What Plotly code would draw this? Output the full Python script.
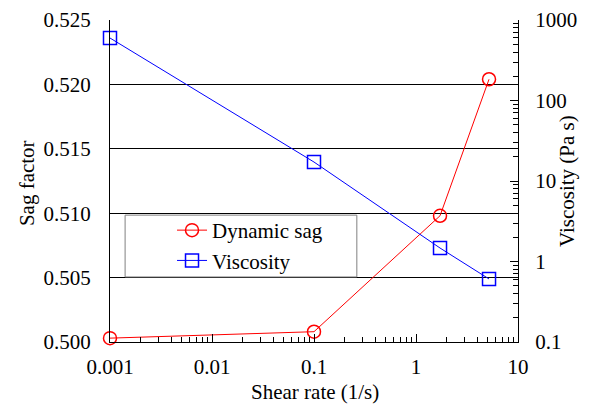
import plotly.graph_objects as go

shear_rate = [0.001, 0.1, 1.72, 5.2]
sag_factor = [0.5003, 0.5008, 0.5098, 0.5204]
viscosity = [597, 17.2, 1.47, 0.607]

x_major = [0.001, 0.01, 0.1, 1, 10]
x_labels = ["0.001", "0.01", "0.1", "1", "10"]
v_major = [0.1, 1, 10, 100, 1000]
v_labels = ["0.1", "1", "10", "100", "1000"]

def minor_log(lo_exp, hi_exp):
    vals = []
    for e in range(lo_exp, hi_exp):
        for m in range(2, 10):
            vals.append(m * 10 ** e)
    return vals

FONT = "Liberation Serif"
TF = dict(family=FONT, size=21, color="black")

fig = go.Figure()
fig.add_trace(go.Scatter(
    x=shear_rate, y=sag_factor, name="Dynamic sag", mode="lines+markers",
    line=dict(color="#ff0000", width=1),
    marker=dict(symbol="circle-open", size=13, color="#ff0000", line=dict(width=1.5)),
    yaxis="y", cliponaxis=False))
fig.add_trace(go.Scatter(
    x=shear_rate, y=viscosity, name="Viscosity", mode="lines+markers",
    line=dict(color="#0000ff", width=1),
    marker=dict(symbol="square-open", size=13, color="#0000ff", line=dict(width=1.5)),
    yaxis="y2", cliponaxis=False))

fig.update_layout(
    width=590, height=405,
    margin=dict(l=110, r=72, t=20, b=63),
    paper_bgcolor="white", plot_bgcolor="white",
    font=TF,
    showlegend=True,
    legend=dict(x=0.152, y=0.41, xanchor="left", yanchor="top",
                bgcolor="rgba(0,0,0,0)", borderwidth=0,
                font=TF, tracegroupgap=0),
    xaxis=dict(type="log", range=[-3, 1], tickmode="array", tickvals=x_major,
               ticktext=x_labels, automargin=False, ticklabelstandoff=6,
               ticks="inside", ticklen=8, tickcolor="black", tickwidth=1,
               minor=dict(tickmode="array", tickvals=minor_log(-3, 1),
                          ticks="inside", ticklen=5, tickcolor="black", showgrid=False),
               showline=True, linecolor="black", linewidth=1, mirror=False,
               showgrid=False, zeroline=False, tickfont=TF),
    yaxis=dict(range=[0.5, 0.525], dtick=0.005, tickformat=".3f", automargin=False,
               ticks="", showline=True, linecolor="black", linewidth=1,
               ticklabelstandoff=14,
               showgrid=True, gridcolor="black", gridwidth=1, zeroline=False,
               tickfont=TF),
    yaxis2=dict(type="log", range=[-1, 3], overlaying="y", side="right",
                tickmode="array", tickvals=v_major, ticktext=v_labels, automargin=False,
                ticks="inside", ticklen=8, tickcolor="black", ticklabelstandoff=12,
                minor=dict(tickmode="array", tickvals=minor_log(-1, 3),
                           ticks="inside", ticklen=5, tickcolor="black", showgrid=False),
                showline=True, linecolor="black", linewidth=1,
                showgrid=False, zeroline=False, tickfont=TF),
)

fig.add_annotation(text="Shear rate (1/s)", xref="paper", yref="paper",
                   x=0.502, y=-0.155, xanchor="center", yanchor="middle",
                   showarrow=False, font=TF)
fig.add_annotation(text="Sag factor", xref="paper", yref="paper",
                   x=-0.203, y=0.494, xanchor="center", yanchor="middle",
                   textangle=-90, showarrow=False, font=TF)
fig.add_annotation(text="Viscosity (Pa s)", xref="paper", yref="paper",
                   x=1.120, y=0.5, xanchor="center", yanchor="middle",
                   textangle=-90, showarrow=False, font=TF)

fig.add_shape(type="rect", xref="paper", yref="paper",
              x0=0.037, x1=0.605, y0=0.202, y1=0.394,
              line=dict(color="#808080", width=1), fillcolor="white", layer="above")

fig.write_html("out.html", config={"displayModeBar": False},
               post_script="document.body.style.margin='0';")
